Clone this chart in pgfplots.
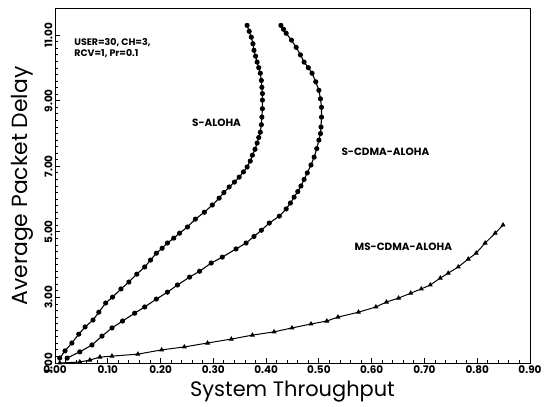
\documentclass[border=0pt]{standalone}
\usepackage{fontspec}
\setmainfont{Poppins}
\newfontfamily\ticfont{Poppins}
\usepackage{pgfplots}
\pgfplotsset{compat=1.18}

\begin{document}
\begin{tikzpicture}
\begin{axis}[
    scale only axis,
    width=475bp, height=354bp,
    xmin=0, xmax=0.9, ymin=1, ymax=11.8,
    xtick={0,0.1,...,0.9}, ytick={1,3,5,7,9,11},
    minor x tick num=4, minor y tick num=9,
    tick align=inside, xtick pos=left, ytick pos=left,
    major tick length=5bp, minor tick length=3bp,
    axis line style={line width=1pt},
    every tick/.style={black, line width=0.8pt},
    /pgf/number format/.cd, fixed, fixed zerofill, precision=2, assume math mode=true,
    /pgfplots/.cd,
    tick label style={font=\ticfont\bfseries\fontsize{10.5}{12}\selectfont},
    xticklabel style={yshift=1bp},
    yticklabel style={rotate=90, anchor=south, yshift=-1bp},
    xlabel={System Throughput}, ylabel={Average Packet Delay},
    xlabel style={at={(axis description cs:0.5,-0.082)}, anchor=center,
      font=\fontsize{21}{24}\selectfont},
    ylabel style={at={(axis description cs:-0.068,0.5)}, anchor=center, rotate=0,
      font=\fontsize{22}{25}\selectfont},
    clip=false,
]
% S-ALOHA
\addplot[black, line width=1.1pt, mark=*, mark size=2pt] coordinates {
 (0.009,1.15) (0.019,1.37) (0.032,1.61) (0.045,1.88) (0.057,2.10) (0.072,2.31)
 (0.083,2.55) (0.096,2.83) (0.109,3.01) (0.125,3.26) (0.140,3.47) (0.155,3.71)
 (0.170,3.93) (0.181,4.14) (0.192,4.35) (0.203,4.50) (0.213,4.66) (0.225,4.81)
 (0.236,4.96) (0.251,5.15) (0.266,5.39) (0.283,5.60) (0.298,5.82) (0.311,6.03)
 (0.320,6.20) (0.330,6.37) (0.340,6.52) (0.349,6.67) (0.357,6.83) (0.364,6.98)
 (0.370,7.16) (0.374,7.34) (0.379,7.52) (0.383,7.71) (0.386,7.88) (0.389,8.04)
 (0.391,8.27) (0.392,8.50) (0.393,8.76) (0.393,9.02) (0.393,9.22) (0.392,9.41)
 (0.391,9.62) (0.389,9.84) (0.386,10.01) (0.383,10.18) (0.380,10.36) (0.377,10.54)
 (0.375,10.74) (0.372,10.94) (0.368,11.12) (0.364,11.30)
};
% S-CDMA-ALOHA
\addplot[black, line width=1.1pt, mark=*, mark size=2pt] coordinates {
 (0.023,1.15) (0.047,1.34) (0.070,1.55) (0.089,1.82) (0.108,2.07) (0.128,2.28)
 (0.151,2.52) (0.170,2.71) (0.192,2.95) (0.213,3.16) (0.232,3.38) (0.255,3.62)
 (0.274,3.80) (0.296,4.05) (0.317,4.23) (0.343,4.48) (0.362,4.66) (0.377,4.86)
 (0.391,5.05) (0.406,5.27) (0.425,5.48) (0.438,5.70) (0.446,5.88) (0.453,6.06)
 (0.460,6.23) (0.466,6.40) (0.472,6.60) (0.478,6.80) (0.485,7.04) (0.491,7.28)
 (0.496,7.54) (0.500,7.80) (0.503,8.00) (0.504,8.20) (0.505,8.50) (0.505,8.80)
 (0.503,9.06) (0.500,9.32) (0.494,9.58) (0.487,9.84) (0.480,10.01) (0.472,10.18)
 (0.465,10.40) (0.457,10.63) (0.448,10.85) (0.438,11.06) (0.433,11.18) (0.428,11.30)
};
% MS-CDMA-ALOHA
\addplot[black, line width=1pt, mark=triangle*, mark size=2pt] coordinates {
 (0.009,1.00) (0.047,1.03) (0.066,1.09) (0.085,1.18) (0.108,1.21) (0.157,1.27)
 (0.202,1.40) (0.245,1.49) (0.289,1.61) (0.334,1.73) (0.374,1.85) (0.415,1.95)
 (0.449,2.07) (0.485,2.19) (0.515,2.28) (0.536,2.40) (0.575,2.55) (0.608,2.71)
 (0.628,2.86) (0.651,2.98) (0.674,3.13) (0.694,3.26) (0.711,3.38) (0.730,3.59)
 (0.745,3.74) (0.764,3.93) (0.783,4.17) (0.798,4.35) (0.815,4.66) (0.834,4.96)
 (0.849,5.21)
};
\node[font=\ticfont\bfseries\fontsize{9.5}{11}\selectfont, anchor=west, align=left]
  at (axis cs:0.030,10.62) {USER=30, CH=3,\\RCV=1, Pr=0.1};
\node[font=\ticfont\bfseries\fontsize{10.5}{12}\selectfont] at (axis cs:0.306,8.32) {S-ALOHA};
\node[font=\ticfont\bfseries\fontsize{10.5}{12}\selectfont] at (axis cs:0.626,7.43) {S-CDMA-ALOHA};
\node[font=\ticfont\bfseries\fontsize{10.5}{12}\selectfont] at (axis cs:0.660,4.54) {MS-CDMA-ALOHA};
\end{axis}
\pgfresetboundingbox
\path[use as bounding box] (current axis.south west) ++(-55bp,-44bp) rectangle
  ([shift={(30bp,9bp)}]current axis.north east);
\end{tikzpicture}
\end{document}
